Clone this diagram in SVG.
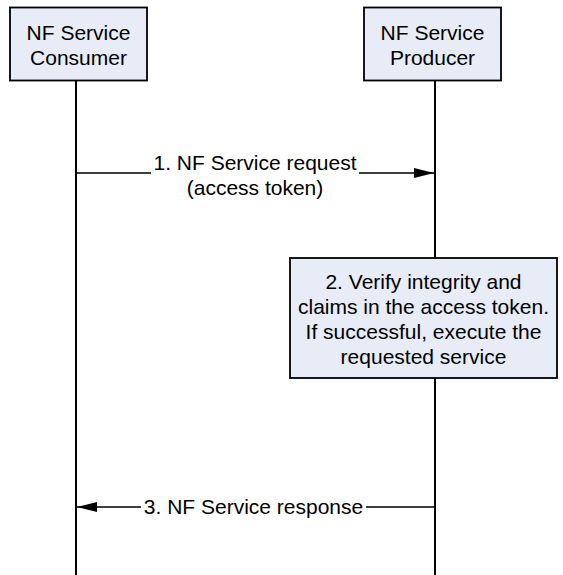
<svg xmlns="http://www.w3.org/2000/svg" width="563" height="575" viewBox="0 0 563 575">
<defs>
<style>
.box{fill:#e7ecf6;stroke:#000;stroke-width:1.8}
.life{stroke:#000;stroke-width:2;fill:none}
.msg{stroke:#000;stroke-width:1.5;fill:none}
text{font-family:"Liberation Sans",Arial,sans-serif;font-size:21px;fill:#000;text-anchor:middle}
</style>
<marker id="arr" viewBox="0 0 20 10" refX="20" refY="5" markerWidth="20" markerHeight="10" markerUnits="userSpaceOnUse" orient="auto">
<path d="M0,0 L20,5 L0,10 Z" fill="#000"/>
</marker>
</defs>
<rect width="563" height="575" fill="#fff"/>
<g id="lifelines">
<line class="life" x1="76" y1="80" x2="76" y2="575"/>
<line class="life" x1="435" y1="80" x2="435" y2="575"/>
</g>
<g id="consumer">
<rect class="box" x="10" y="7.5" width="137" height="73"/>
<text x="78.5" y="40">NF Service</text>
<text x="78.5" y="65">Consumer</text>
</g>
<g id="producer">
<rect class="box" x="364" y="7.5" width="137" height="73"/>
<text x="432.5" y="40">NF Service</text>
<text x="432.5" y="65">Producer</text>
</g>
<g id="verify">
<rect class="box" x="290" y="258" width="267" height="120"/>
<text x="423.5" y="289">2. Verify integrity and</text>
<text x="423.5" y="314">claims in the access token.</text>
<text x="423.5" y="339">If successful, execute the</text>
<text x="423.5" y="364">requested service</text>
</g>
<g id="connectors">
<path class="msg" d="M76,173 H151 M359,173 H434" marker-end="url(#arr)"/>
<path class="msg" d="M435,507 H366 M141,507 H77" marker-end="url(#arr)"/>
<text x="255" y="170">1. NF Service request</text>
<text x="255" y="195">(access token)</text>
<text x="253.5" y="514">3. NF Service response</text>
</g>
</svg>
